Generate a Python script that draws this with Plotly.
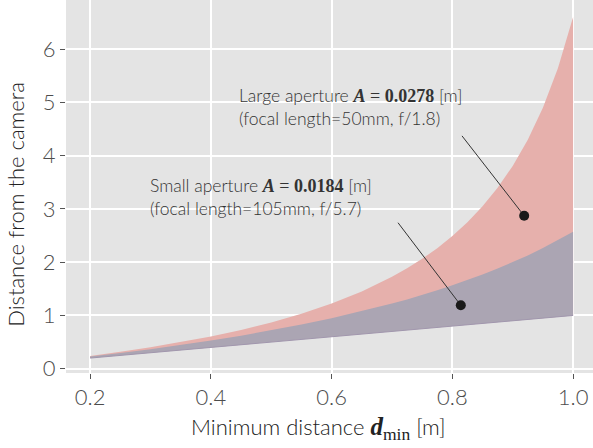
import plotly.graph_objects as go

# ---- data ----
d_min = [0.2, 0.25, 0.3, 0.35, 0.4, 0.45, 0.5, 0.55, 0.6, 0.65, 0.7, 0.725, 0.75,
         0.775, 0.8, 0.825, 0.85, 0.875, 0.9, 0.925, 0.95, 0.975, 1.0]
lower_bound = [0.2, 0.25, 0.3, 0.35, 0.4, 0.45, 0.5, 0.55, 0.6, 0.65, 0.7, 0.725, 0.75,
               0.775, 0.8, 0.825, 0.85, 0.875, 0.9, 0.925, 0.95, 0.975, 1.0]
upper_large = [0.241, 0.317, 0.402, 0.498, 0.605, 0.728, 0.868, 1.031, 1.222, 1.449,
               1.724, 1.884, 2.062, 2.263, 2.490, 2.750, 3.049, 3.397, 3.807, 4.299,
               4.898, 5.644, 6.6]
upper_small = [0.228, 0.295, 0.367, 0.445, 0.529, 0.621, 0.720, 0.828, 0.947, 1.078,
               1.223, 1.301, 1.384, 1.472, 1.565, 1.663, 1.768, 1.880, 1.999, 2.127,
               2.264, 2.411, 2.570]

x_ticks = [0.2, 0.4, 0.6, 0.8, 1.0]
x_tick_labels = ["0.2", "0.4", "0.6", "0.8", "1.0"]
y_ticks = [0, 1, 2, 3, 4, 5, 6]

# callouts: point on band, line start near label
callout_point_x = [0.919, 0.814]
callout_point_y = [2.87, 1.19]
callout_start_x = [0.816, 0.710]
callout_start_y = [4.37, 2.74]
label_x = [0.443, 0.296]
label_y = [4.91, 3.23]
label_A = ["0.0278", "0.0184"]
label_name = ["Large aperture", "Small aperture"]
label_sub = ["(focal length=50mm, f/1.8)", "(focal length=105mm, f/5.7)"]

SANS = "Lato, 'Noto Sans', sans-serif"
SERIF = "'Liberation Serif', 'DejaVu Serif', serif"

fig = go.Figure()

fig.add_trace(go.Scatter(
    x=d_min + d_min[::-1],
    y=lower_bound + upper_large[::-1],
    fill="toself", fillcolor="#E6B0AC", mode="lines",
    line=dict(width=0, color="#E6B0AC"), hoverinfo="skip", showlegend=False))
fig.add_trace(go.Scatter(
    x=d_min + d_min[::-1],
    y=lower_bound + upper_small[::-1],
    fill="toself", fillcolor="#ABA5B3", mode="lines",
    line=dict(width=0, color="#ABA5B3"), hoverinfo="skip", showlegend=False))
fig.add_trace(go.Scatter(
    x=d_min, y=lower_bound, mode="lines",
    line=dict(width=1, color="#A097AE"), hoverinfo="skip", showlegend=False))

for i in range(len(callout_point_x)):
    fig.add_trace(go.Scatter(
        x=[callout_start_x[i], callout_point_x[i]],
        y=[callout_start_y[i], callout_point_y[i]],
        mode="lines", line=dict(width=1, color="#333333"),
        hoverinfo="skip", showlegend=False))
fig.add_trace(go.Scatter(
    x=callout_point_x, y=callout_point_y, mode="markers",
    marker=dict(size=10, color="#1a1a1a"), hoverinfo="skip", showlegend=False))

for i in range(len(label_x)):
    txt = (f"{label_name[i]} <span style=\"font-family:{SERIF};font-size:18px\"><b><i>A</i></b> = "
           f"<b>{label_A[i]}</b></span> [m]<br>{label_sub[i]}")
    fig.add_annotation(
        x=label_x[i], y=label_y[i], xref="x", yref="y", text=txt,
        showarrow=False, xanchor="left", yanchor="middle", align="left",
        font=dict(family=SANS, size=17.5, color="#333333", weight=300))

# axis titles
fig.add_annotation(
    x=(318 - 66) / 527, y=-0.148, xref="paper", yref="paper",
    text=f"Minimum distance <span style=\"font-family:{SERIF};font-size:25px\"><b><i>d</i></b><sub>min</sub></span> [m]",
    showarrow=False, xanchor="center", yanchor="middle",
    font=dict(family=SANS, size=22, color="#222222", weight=300))
fig.add_annotation(
    x=(16 - 66) / 527, y=0.451, xref="paper", yref="paper",
    text="Distance from the camera", textangle=-90,
    showarrow=False, xanchor="center", yanchor="middle",
    font=dict(family=SANS, size=22, color="#222222", weight=300))

fig.update_layout(
    width=593, height=448,
    margin=dict(l=66, r=0, t=0, b=75, autoexpand=False),
    paper_bgcolor="white", plot_bgcolor="#E4E4E4",
    font=dict(family=SANS, color="#222222"),
    xaxis=dict(
        range=[0.16, 1.033], tickvals=x_ticks, ticktext=x_tick_labels,
        automargin=False,
        showgrid=True, gridcolor="white", gridwidth=1.5, zeroline=False,
        ticks="outside", ticklen=5, tickcolor="#555555", tickwidth=1,
        tickfont=dict(family=SANS, size=22, color="#4D4D4D", weight=300),
    ),
    yaxis=dict(
        range=[-0.08, 6.92], tickvals=y_ticks,
        automargin=False,
        showgrid=True, gridcolor="white", gridwidth=1.5, zeroline=False,
        ticks="outside", ticklen=5, tickcolor="#555555", tickwidth=1,
        tickfont=dict(family=SANS, size=22, color="#4D4D4D", weight=300),
    ),
)

fig.write_html("out.html",
               config={"displayModeBar": False},
               post_script="document.body.style.margin='0px';document.body.style.padding='0px';")
